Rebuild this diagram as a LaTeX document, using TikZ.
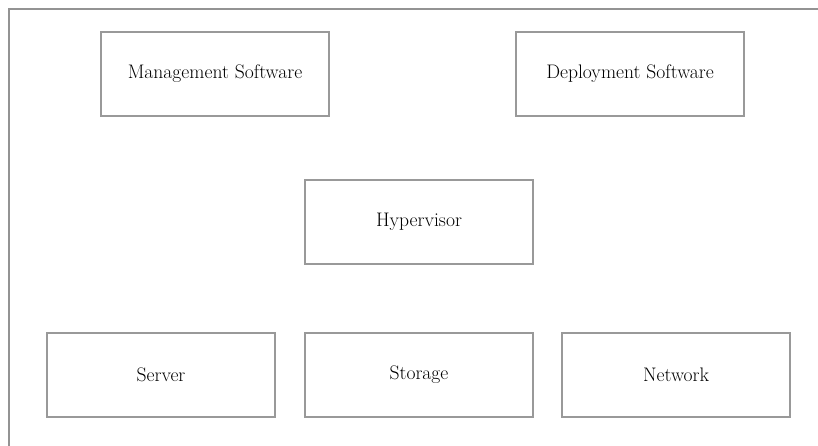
\documentclass[tikz,border=0pt]{standalone}
\usepackage{tikz}
\usetikzlibrary{positioning}

\begin{document}
\begin{tikzpicture}[
  x=1pt, y=-1pt,
  layer/.style={rectangle, draw=gray!80, line width=1.3pt, minimum width=228pt,
    minimum height=84pt, inner sep=0pt, font=\fontsize{19.6}{22}\selectfont, text=black}
]
  \useasboundingbox (0,0) rectangle (818,446);
  \draw[gray!85, line width=1.6pt] (818,9) -- (9,9) -- (9,446);

  \node[layer] (mgmt)    at (215,74)  {Management Software};
  \node[layer] (deploy)  at (630,74)  {Deployment Software};
  \node[layer] (hyper)   at (419,222) {Hypervisor};
  \node[layer] (server)  at (161,375) {Server};
  \node[layer] (storage) at (419,375) {Storage};
  \node[layer] (network) at (676,375) {Network};
\end{tikzpicture}
\end{document}
